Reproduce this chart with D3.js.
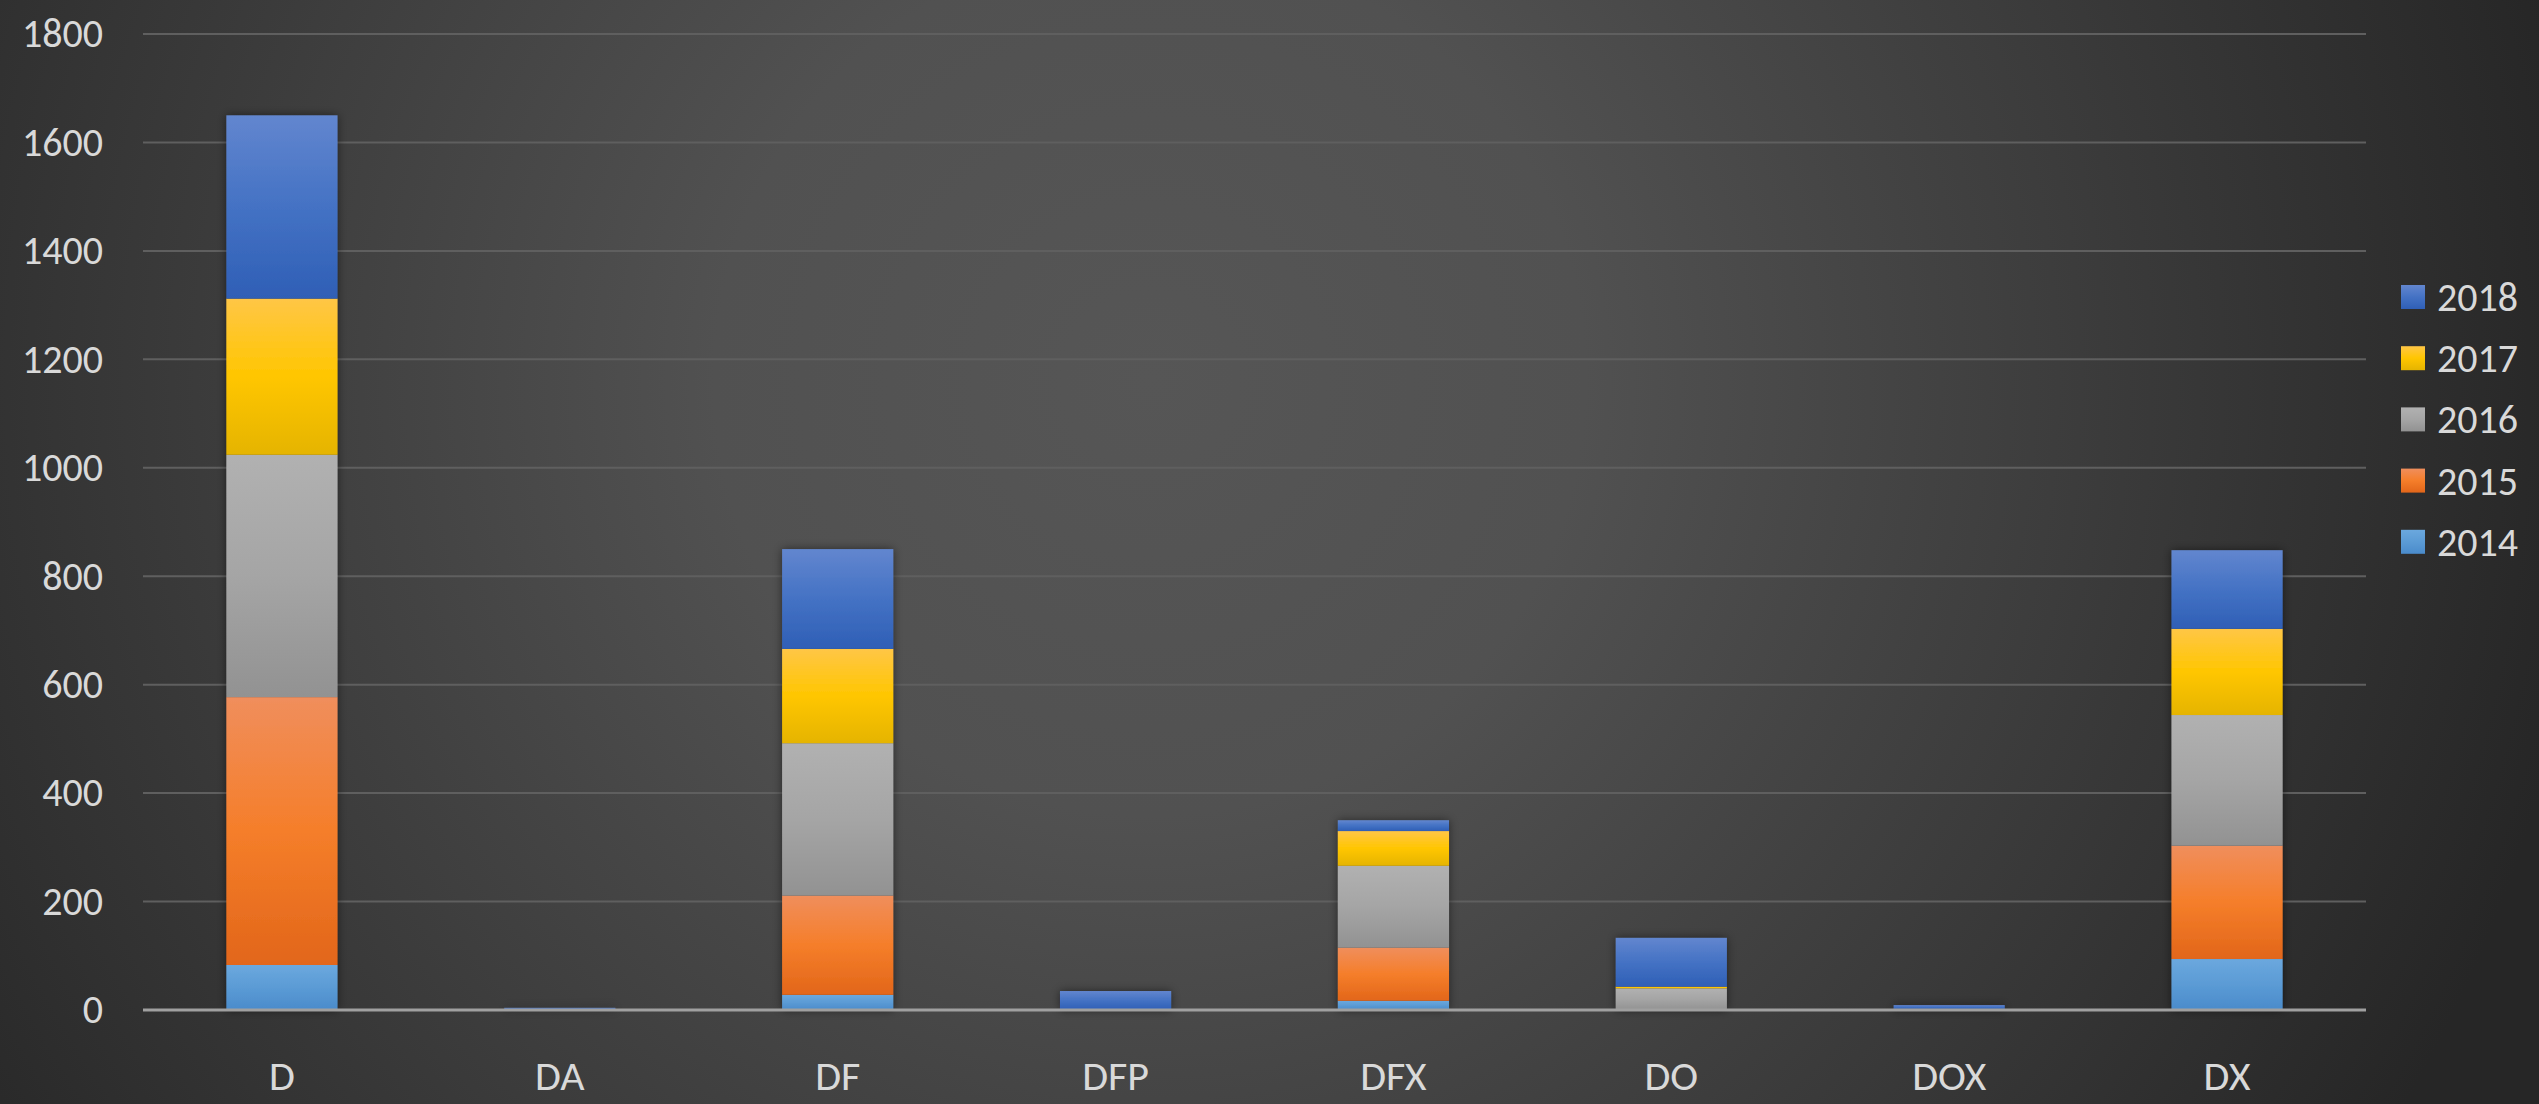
<!DOCTYPE html>
<html><head><meta charset="utf-8">
<script src="https://cdn.jsdelivr.net/npm/d3@7"></script>
<style>html,body{margin:0;padding:0;overflow:hidden;background:#2a2a2a}</style>
</head><body>
<script>
const categories = ["D","DA","DF","DFP","DFX","DO","DOX","DX"];
const years = ["2014","2015","2016","2017","2018"];
const v2014 = [83, 0, 28, 0, 17, 0, 0, 94];
const v2015 = [494, 1, 183, 0, 98, 0, 0, 209];
const v2016 = [447, 0, 281, 0, 151, 40, 2, 241];
const v2017 = [288, 0, 174, 0, 64, 3, 0, 159];
const v2018 = [338, 3, 184, 35, 20, 90, 7, 145];
const yTicks = [0,200,400,600,800,1000,1200,1400,1600,1800];

const W = 2539, H = 1104;
const M = {left:143, right:2366, top:34, bottom:1010};
const svg = d3.select("body").append("svg").attr("width",W).attr("height",H);
const defs = svg.append("defs");

const bg = defs.append("radialGradient").attr("id","bg").attr("gradientUnits","userSpaceOnUse")
  .attr("cx",1150).attr("cy",380).attr("r",1450);
bg.append("stop").attr("offset",0).attr("stop-color","#565656");
bg.append("stop").attr("offset",0.3).attr("stop-color","#515151");
bg.append("stop").attr("offset",1).attr("stop-color","#262626");
svg.append("rect").attr("width",W).attr("height",H).attr("fill","url(#bg)");

const palettes = {
  "2014":["#6ba8de","#5b9bd5","#4a8bcb"],
  "2015":["#f08e5c","#f57e2a","#e2661a"],
  "2016":["#b1b1b1","#a5a5a5","#929292"],
  "2017":["#ffc646","#ffc600","#e5b400"],
  "2018":["#6286cf","#4472c4","#2f5fb6"]
};
years.forEach(y=>{
  const g = defs.append("linearGradient").attr("id","g"+y).attr("x1",0).attr("y1",0).attr("x2",0).attr("y2",1);
  g.append("stop").attr("offset",0).attr("stop-color",palettes[y][0]);
  g.append("stop").attr("offset",0.5).attr("stop-color",palettes[y][1]);
  g.append("stop").attr("offset",1).attr("stop-color",palettes[y][2]);
});
const sh = defs.append("filter").attr("id","shadow").attr("x","-20%").attr("y","-20%").attr("width","140%").attr("height","140%");
sh.append("feDropShadow").attr("dx",0).attr("dy",0).attr("stdDeviation",5).attr("flood-color","#000").attr("flood-opacity",0.5);

const x = d3.scaleBand().domain(categories).range([M.left,M.right]).paddingInner(0.6).paddingOuter(0.3);
const y = d3.scaleLinear().domain([0,1800]).range([M.bottom,M.top]);

// gridlines
svg.append("g").selectAll("line").data(yTicks.filter(t=>t>0)).join("line")
  .attr("x1",M.left).attr("x2",M.right).attr("y1",d=>y(d)).attr("y2",d=>y(d))
  .attr("stroke","#5f5f5f").attr("stroke-width",2);

// y axis
const yAxis = svg.append("g").attr("transform",`translate(${M.left},0)`)
  .call(d3.axisLeft(y).tickValues(yTicks).tickSize(0).tickPadding(40).tickFormat(d3.format("d")));
yAxis.select(".domain").remove();
yAxis.selectAll("text").attr("fill","#d9d9d9").style("font-family","Carlito, Calibri, Lato, 'Open Sans', sans-serif")
  .style("font-size","40px");

// stacked data
const seriesVals = {"2014":v2014,"2015":v2015,"2016":v2016,"2017":v2017,"2018":v2018};
const table = categories.map((c,i)=>{const o={cat:c}; years.forEach(yy=>o[yy]=seriesVals[yy][i]); return o;});
const stack = d3.stack().keys(years)(table);

const barsG = svg.append("g").attr("filter","url(#shadow)");
stack.forEach(s=>{
  barsG.append("g").selectAll("rect").data(s).join("rect")
    .attr("x",d=>x(d.data.cat)).attr("width",x.bandwidth())
    .attr("y",d=>y(d[1])).attr("height",d=>Math.max(0,y(d[0])-y(d[1])))
    .attr("fill",`url(#g${s.key})`);
});

// x axis line
svg.append("line").attr("x1",M.left).attr("x2",M.right).attr("y1",y(0)).attr("y2",y(0))
  .attr("stroke","#a0a0a0").attr("stroke-width",3);

const xAxis = svg.append("g").attr("transform",`translate(0,${y(0)})`)
  .call(d3.axisBottom(x).tickSize(0).tickPadding(50));
xAxis.select(".domain").remove();
xAxis.selectAll("text").attr("fill","#d9d9d9").style("font-family","Carlito, Calibri, Lato, 'Open Sans', sans-serif")
  .style("font-size","42px");

// legend
const legendYears = years.slice().reverse();
const lg = svg.append("g").selectAll("g").data(legendYears).join("g")
  .attr("transform",(d,i)=>`translate(2401,${297 + i*61.2})`);
lg.append("rect").attr("x",0).attr("y",-12).attr("width",24).attr("height",24).attr("fill",d=>`url(#g${d})`);
lg.append("text").attr("x",36).attr("y",0).attr("dy","0.35em").text(d=>d)
  .attr("fill","#d9d9d9").style("font-family","Carlito, Calibri, Lato, 'Open Sans', sans-serif").style("font-size","40px");
</script>
</body></html>
